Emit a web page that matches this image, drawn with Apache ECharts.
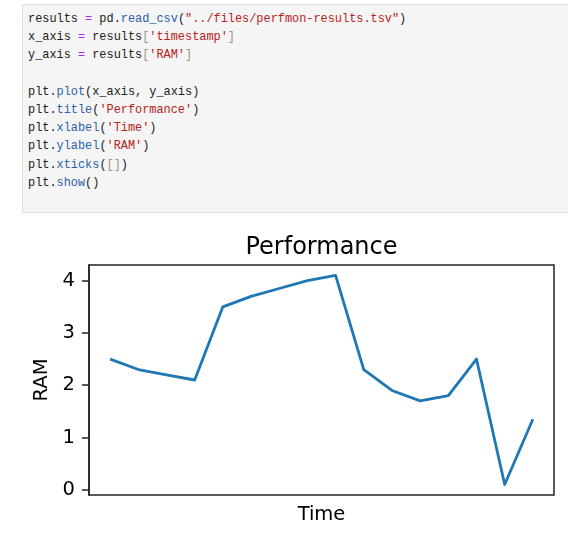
<!DOCTYPE html>
<html>
<head>
<meta charset="utf-8">
<script src="https://cdn.jsdelivr.net/npm/echarts@6/dist/echarts.min.js"></script>
<style>
  html, body { margin: 0; padding: 0; background: #fff; overflow: hidden; }
  #chart { position: absolute; left: 0; top: 0; width: 568px; height: 547px; }
  #code {
    position: absolute; left: 22px; top: 4px; width: 560px; height: 207px;
    background: #f5f5f5; border: 1px solid #e0e0e0; z-index: 2; box-sizing: content-box;
  }
  #code pre {
    margin: 0; padding: 5px 0 0 5px;
    font-family: "Liberation Mono", "DejaVu Sans Mono", monospace;
    font-size: 11.9px; line-height: 18.2px; color: #212121;
  }
  .op { color: #aa22ff; }
  .pr { color: #2b62a8; }
  .st { color: #ba2121; }
  .br { color: #999977; }
</style>
</head>
<body>
<div id="chart"></div>
<div id="code"><pre>results <span class="op">=</span> pd.<span class="pr">read_csv</span>(<span class="st">"../files/perfmon-results.tsv"</span>)
x_axis <span class="op">=</span> results<span class="br">[</span><span class="st">'timestamp'</span><span class="br">]</span>
y_axis <span class="op">=</span> results<span class="br">[</span><span class="st">'RAM'</span><span class="br">]</span>

plt.<span class="pr">plot</span>(x_axis, y_axis)
plt.<span class="pr">title</span>(<span class="st">'Performance'</span>)
plt.<span class="pr">xlabel</span>(<span class="st">'Time'</span>)
plt.<span class="pr">ylabel</span>(<span class="st">'RAM'</span>)
plt.<span class="pr">xticks</span>(<span class="br">[]</span>)
plt.<span class="pr">show</span>()</pre></div>
<script>
// Data
const timeIndex = [0, 1, 2, 3, 4, 5, 6, 7, 8, 9, 10, 11, 12, 13, 14, 15];
const ramValues = [2.5, 2.3, 2.2, 2.1, 3.5, 3.7, 3.85, 4.0, 4.1, 2.3, 1.9, 1.7, 1.8, 2.5, 0.1, 1.35];
const yTickValues = [0, 1, 2, 3, 4];
const chartTitle = 'Performance';
const xLabel = 'Time';
const yLabel = 'RAM';

const seriesData = timeIndex.map((t, i) => [t, ramValues[i]]);
const fontFam = '"DejaVu Sans", sans-serif';

const chart = echarts.init(document.getElementById('chart'), null, { renderer: 'canvas' });
chart.setOption({
  animation: false,
  backgroundColor: '#ffffff',
  graphic: [{
    type: 'text',
    x: 321.5,
    y: 247.5,
    style: {
      text: chartTitle,
      fontFamily: fontFam, fontSize: 24, fill: '#000',
      align: 'center', verticalAlign: 'middle'
    }
  }],
  grid: {
    left: 89, top: 265, width: 465, height: 230,
    show: true, borderColor: '#222', borderWidth: 1.5, backgroundColor: 'transparent'
  },
  xAxis: {
    type: 'value',
    min: -0.75, max: 15.75,
    axisLine: { show: false, onZero: false },
    axisTick: { show: false },
    axisLabel: { show: false },
    splitLine: { show: false },
    name: xLabel,
    nameLocation: 'middle',
    nameGap: 10,
    nameTextStyle: { fontFamily: fontFam, fontSize: 19.5, color: '#000', verticalAlign: 'top' }
  },
  yAxis: {
    type: 'value',
    min: -0.1, max: 4.3,
    axisLine: { show: true, onZero: false, lineStyle: { color: '#222', width: 1.5 } },
    axisTick: { show: true, inside: false, length: 7, customValues: yTickValues, lineStyle: { color: '#222', width: 1.5 } },
    axisLabel: { show: true, customValues: yTickValues, margin: 14, fontFamily: fontFam, fontSize: 19.5, color: '#000' },
    splitLine: { show: false },
    name: yLabel,
    nameLocation: 'middle',
    nameRotate: 90,
    nameGap: 37,
    nameTextStyle: { fontFamily: fontFam, fontSize: 19.5, color: '#000' }
  },
  series: [{
    type: 'line',
    data: seriesData,
    showSymbol: false,
    lineStyle: { color: '#1f77b4', width: 2.8, join: 'round' },
    itemStyle: { color: '#1f77b4' }
  }]
});
</script>
</body>
</html>
